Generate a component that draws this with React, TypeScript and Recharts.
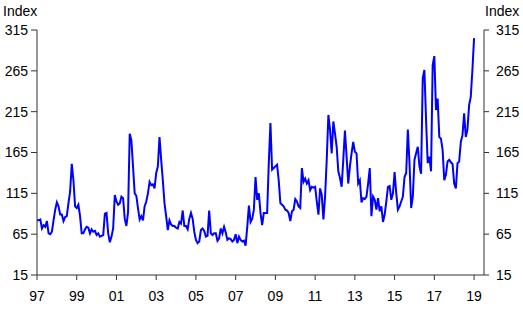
import React from 'react';
import { LineChart, Line, XAxis, YAxis } from 'recharts';

// monthly index values, Jan 1997 .. Jan 2019
const indexValues = [
  82, 82, 83, 72, 76, 74, 81, 66, 65, 68, 82, 95,
  104, 99, 89, 89, 81, 86, 87, 103, 117, 151, 131, 99,
  97, 101, 87, 66, 66, 71, 74, 73, 66, 71, 68, 69,
  64, 66, 62, 63, 64, 90, 91, 66, 55, 62, 72, 113,
  105, 101, 103, 111, 109, 84, 75, 92, 188, 180, 148, 115,
  112, 97, 83, 87, 82, 99, 105, 115, 129, 125, 126, 121,
  140, 148, 184, 156, 131, 103, 87, 70, 82, 77, 75, 75,
  73, 72, 80, 78, 94, 75, 75, 71, 84, 91, 84, 68,
  58, 54, 56, 70, 72, 69, 62, 63, 94, 66, 64, 66,
  66, 57, 60, 72, 66, 74, 67, 58, 60, 59, 56, 58,
  65, 54, 62, 58, 56, 57, 51, 74, 100, 80, 84, 95,
  135, 107, 115, 91, 76, 91, 91, 91, 152, 201, 144, 146,
  148, 150, 131, 103, 101, 99, 95, 94, 91, 81, 93, 95,
  108, 105, 99, 97, 146, 129, 133, 127, 131, 119, 123, 122,
  123, 105, 89, 121, 113, 83, 111, 156, 211, 193, 164, 203,
  188, 172, 142, 134, 123, 156, 192, 160, 127, 148, 164, 178,
  166, 164, 127, 131, 104, 109, 108, 111, 127, 146, 87, 111,
  107, 95, 109, 93, 99, 80, 89, 105, 123, 124, 107, 115,
  141, 115, 95, 99, 105, 111, 135, 140, 193, 152, 97, 111,
  156, 164, 172, 148, 139, 256, 266, 205, 152, 160, 142, 272,
  283, 217, 231, 184, 182, 168, 131, 138, 154, 156, 153, 151,
  127, 121, 152, 154, 178, 186, 213, 184, 193, 223, 233, 266,
  305,
];

const xTickMonths = [0, 24, 48, 72, 96, 120, 144, 168, 192, 216, 240, 264];
const xTickLabels = ['97', '99', '01', '03', '05', '07', '09', '11', '13', '15', '17', '19'];
const yTicks = [15, 65, 115, 165, 215, 265, 315];

const data = indexValues.map((v, i) => ({ month: i, value: v }));

const font = 'Arial, "Liberation Sans", sans-serif';
const axisColor = '#333';
const tickStyle = { fill: '#000', fontSize: 14, fontFamily: font };

const labelStyle: React.CSSProperties = {
  position: 'absolute',
  top: 1,
  fontFamily: font,
  fontSize: 14,
  color: '#000',
  lineHeight: '20px',
};

export default function App() {
  return (
    <div style={{ position: 'absolute', left: 0, top: 0, width: 523, height: 317, background: '#fff' }}>
      <div style={{ ...labelStyle, left: 3 }}>Index</div>
      <div style={{ ...labelStyle, left: 485 }}>Index</div>
      <LineChart
        width={523}
        height={317}
        data={data}
        margin={{ top: 30, right: 0, bottom: 12, left: 0 }}
      >
        <XAxis
          dataKey="month"
          type="number"
          domain={[0, 270]}
          ticks={xTickMonths}
          tickFormatter={(m: number) => xTickLabels[xTickMonths.indexOf(m)]}
          stroke={axisColor}
          tick={tickStyle}
          tickSize={5}
          tickMargin={11}
          height={30}
          interval={0}
        />
        <YAxis
          yAxisId="left"
          domain={[15, 315]}
          ticks={yTicks}
          stroke={axisColor}
          tick={tickStyle}
          tickSize={6}
          tickMargin={3}
          width={37}
          interval={0}
        />
        <YAxis
          yAxisId="right"
          orientation="right"
          domain={[15, 315]}
          ticks={yTicks}
          stroke={axisColor}
          tick={tickStyle}
          tickSize={5}
          tickMargin={7}
          width={39}
          interval={0}
        />
        {/* same series on the right axis, invisible, so that axis gets its ticks */}
        <Line
          yAxisId="right"
          type="linear"
          dataKey="value"
          stroke="none"
          dot={false}
          activeDot={false}
          isAnimationActive={false}
        />
        <Line
          yAxisId="left"
          type="linear"
          dataKey="value"
          stroke="#0000ff"
          strokeWidth={2}
          dot={false}
          isAnimationActive={false}
        />
      </LineChart>
    </div>
  );
}
